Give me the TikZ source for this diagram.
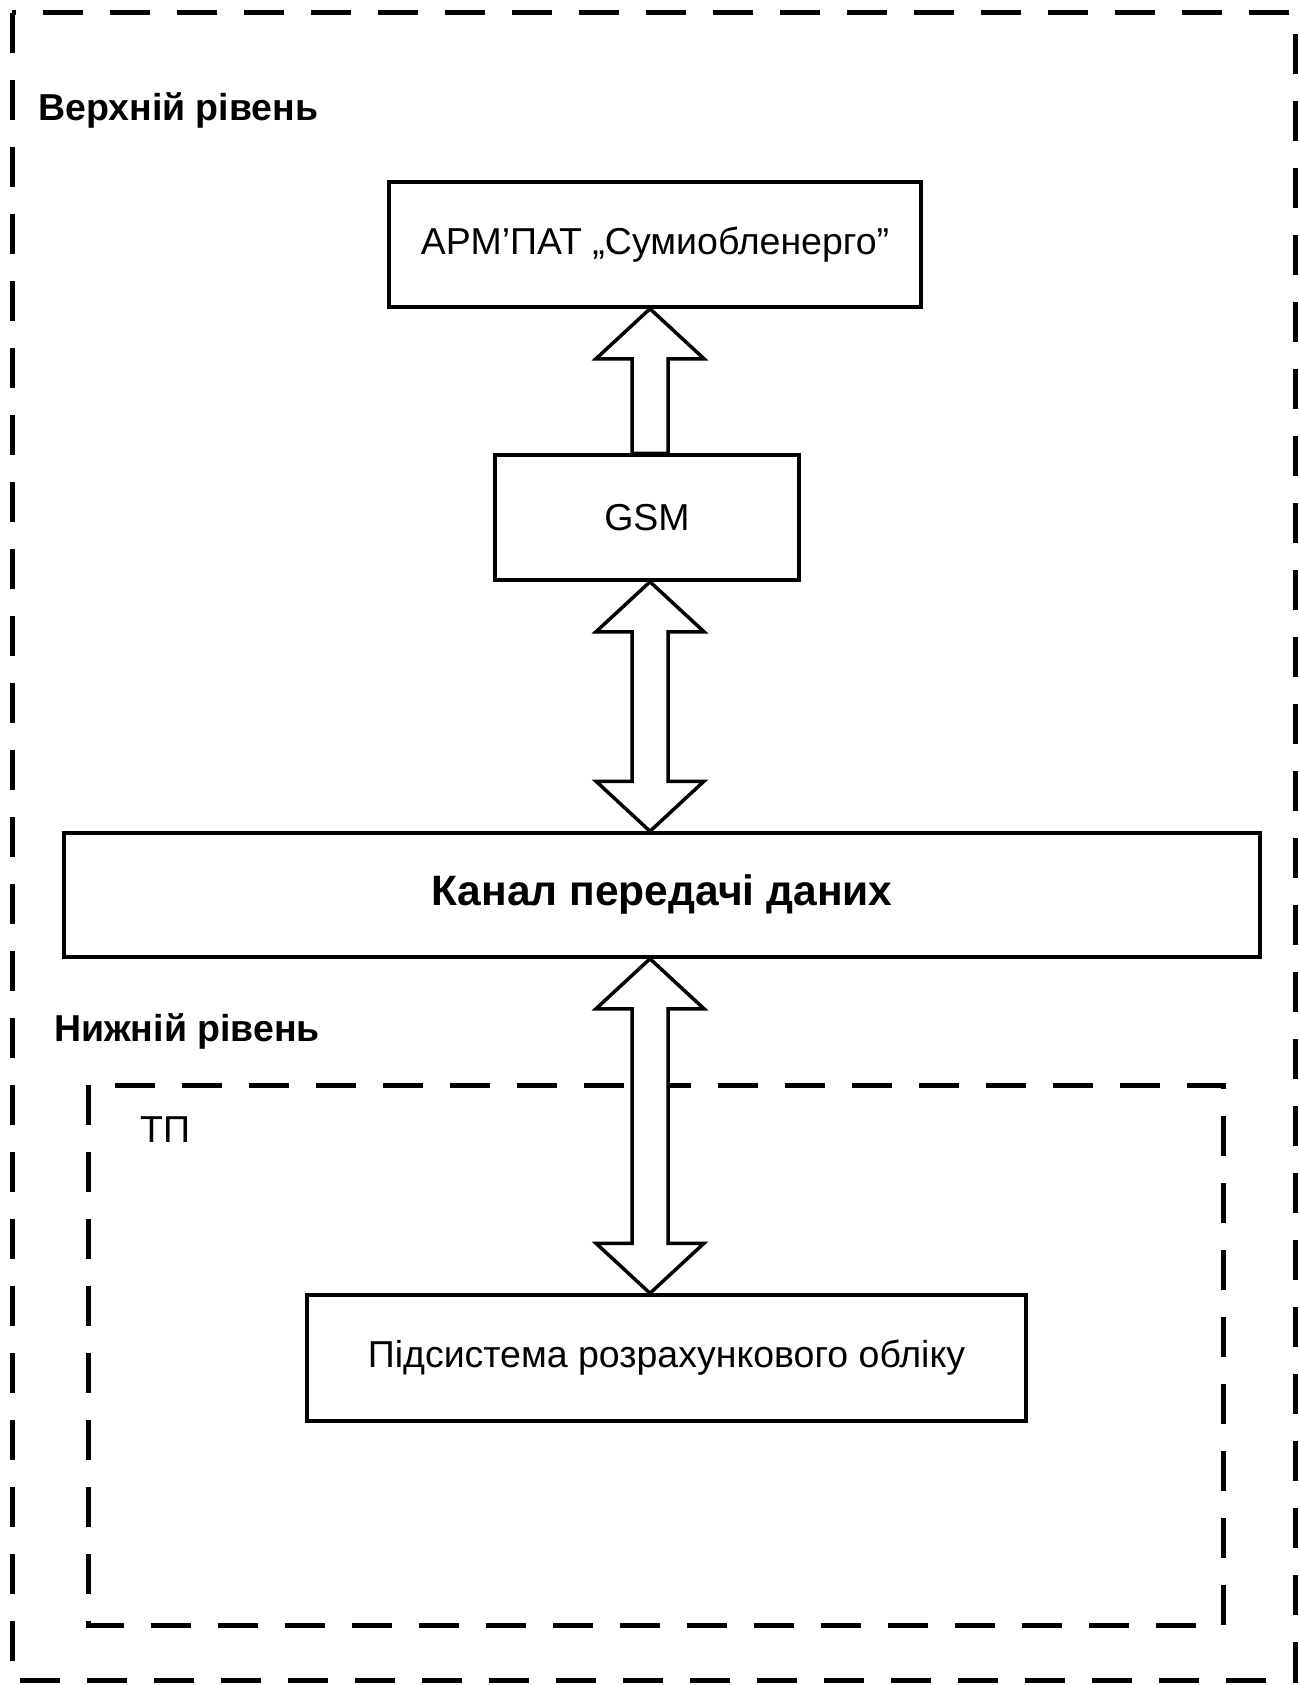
\documentclass[tikz,border=0pt]{standalone}
\usepackage{fontspec}
\setmainfont{Liberation Sans}
\usetikzlibrary{calc}
\tikzset{x=1pt,y=-1pt,
 bx/.style={draw,line width=3.5pt,minimum height=125pt,inner sep=0pt},
 zone/.style={line width=5pt,dash pattern=on 40pt off 27pt},
 blk/.style={draw,fill=white,line width=3.5pt,line join=miter},
 lbl/.style={anchor=west,inner sep=0pt,font=\fontsize{37.5}{44}\selectfont\bfseries},
 every node/.style={font=\fontsize{37.5}{44}\selectfont}}
\newcommand\hw{54pt}
\newcommand\sw{18pt}
\newcommand\hl{50pt}
% #1 tail, #2 tip
\newcommand\onearrow[2]{\draw[blk] let \p1=(#1),\p2=(#2) in
 (\p2) -- (\x2+\hw,\y2-\hl) -- (\x2+\sw,\y2-\hl) -- (\x2+\sw,\y1) -- (\x2-\sw,\y1)
 -- (\x2-\sw,\y2-\hl) -- (\x2-\hw,\y2-\hl) -- cycle;}
% #1 lower tip, #2 upper tip
\newcommand\twoarrow[2]{\draw[blk] let \p1=(#1),\p2=(#2) in
 (\p2) -- (\x2+\hw,\y2-\hl) -- (\x2+\sw,\y2-\hl) -- (\x2+\sw,\y1+\hl) -- (\x2+\hw,\y1+\hl)
 -- (\p1) -- (\x2-\hw,\y1+\hl) -- (\x2-\sw,\y1+\hl) -- (\x2-\sw,\y2-\hl) -- (\x2-\hw,\y2-\hl) -- cycle;}
\begin{document}
\begin{tikzpicture}
\useasboundingbox (0,0) rectangle (1298,1685);
\draw[zone] (12,13) rectangle (1295,1680);
\draw[zone] (88,1085) rectangle (1223,1625);
\node[lbl] (top) at (38,110) {Верхній рівень};
\node[lbl] (low) at (54,1031) {Нижній рівень};
\node[anchor=west,inner sep=0pt] (tp) at (140,1130) {ТП};

\node[bx,minimum width=532pt] (arm) at (655,244.5) {АРМ’ПАТ „Сумиобленерго”};
\node[bx,minimum width=304pt] (gsm) at (647,517.5) {GSM};
\node[bx,minimum width=1196pt,minimum height=124pt,font=\fontsize{42.5}{48}\selectfont\bfseries] (chan) at (662,895) {Канал передачі даних};
\node[bx,minimum width=719pt,minimum height=126pt] (sub) at (666.5,1358) {Підсистема розрахункового обліку};

\coordinate (ax) at (650,0);
\onearrow{gsm.north -| ax}{arm.south -| ax}
\twoarrow{chan.north -| ax}{gsm.south -| ax}
\twoarrow{sub.north -| ax}{chan.south -| ax}
\end{tikzpicture}
\end{document}
